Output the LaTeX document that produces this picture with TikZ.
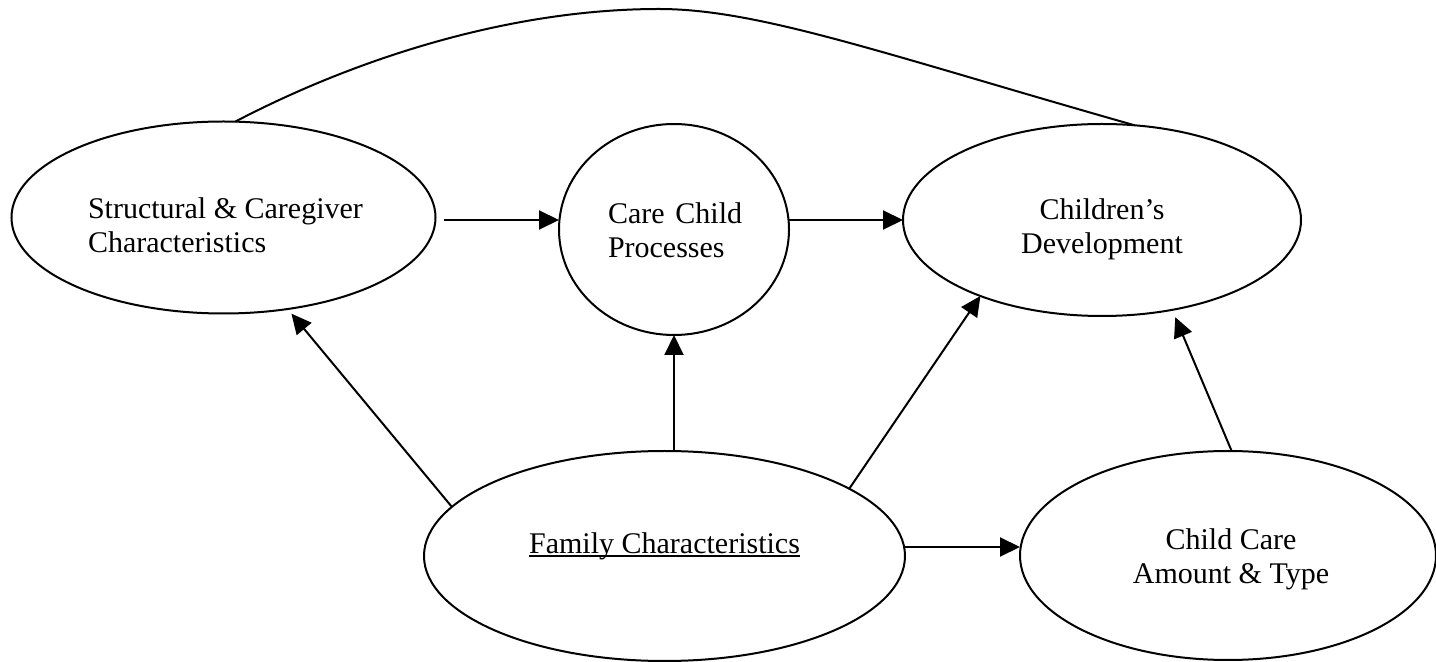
\documentclass[tikz,border=0pt]{standalone}
\usepackage{fontspec}
\setmainfont{Liberation Serif}
\usetikzlibrary{shapes.geometric,arrows.meta}
\begin{document}
\begin{tikzpicture}[x=0.5pt,y=-0.5pt,
  oval/.style={ellipse,draw,line width=1pt,inner sep=0pt,outer sep=0pt},
  lbl/.style={inner sep=0pt,outer sep=0pt,font=\fontsize{15}{17}\selectfont},
  arr/.style={line width=1pt,-{Triangle[length=10pt,width=9.5pt]}},
  link/.style={line width=1pt}]
\useasboundingbox (0,0) rectangle (1436,662);
% shapes
\node[oval,minimum width=212pt,minimum height=96pt] (sc) at (223.5,217.5) {};
\node[oval,minimum width=115pt,minimum height=105.5pt] (cc) at (674,229.5) {};
\node[oval,minimum width=199pt,minimum height=96pt] (cd) at (1102,220) {};
\node[oval,minimum width=240.5pt,minimum height=105pt] (fam) at (664.5,556) {};
\node[oval,minimum width=208pt,minimum height=104.5pt] (ca) at (1228,555.5) {};
% texts
\node[lbl,align=left,anchor=west] (sct) at (88,225) {Structural \& Caregiver\\Characteristics};
\node[lbl,align=left,anchor=west] (cct) at (608,230) {Care\hspace{.36em}Child\\Processes};
\node[lbl,align=center] (cdt) at (1102,229) {Children’s\\Development};
\node[lbl,anchor=base] (famt) at (664.5,553) {Family Characteristics};
\draw[line width=0.8pt] ([yshift=-1.5pt]famt.base west) -- ([yshift=-1.5pt]famt.base east);
\node[lbl,align=center] (cat) at (1231,559.5) {Child Care\\Amount \& Type};
% connectors
\draw[arr,shorten <=4pt] (sc.east |- cd.west) -- (cc.west |- cd.west);
\draw[arr] (cc.east |- cd.west) -- (cd.west);
\draw[arr] (cc.south |- fam.north) -- (cc.south);
\draw[arr,shorten >=3pt] (fam.167.7) -- (sc.-55.8);
\draw[arr] (fam.20.3) -- (cd.212.7);
\draw[arr] ([yshift=4.5pt]fam.east) -- ([yshift=4.25pt]ca.west);
\draw[arr,shorten >=4pt] (ca.88.4) -- (cd.-52.7);
% top curve
\coordinate (apex) at (659,9);
\draw[link] (sc.83) .. controls (355,59) and (509,9) .. (apex) .. controls (759,9) and (884,54) .. (cd.71);
\end{tikzpicture}
\end{document}
